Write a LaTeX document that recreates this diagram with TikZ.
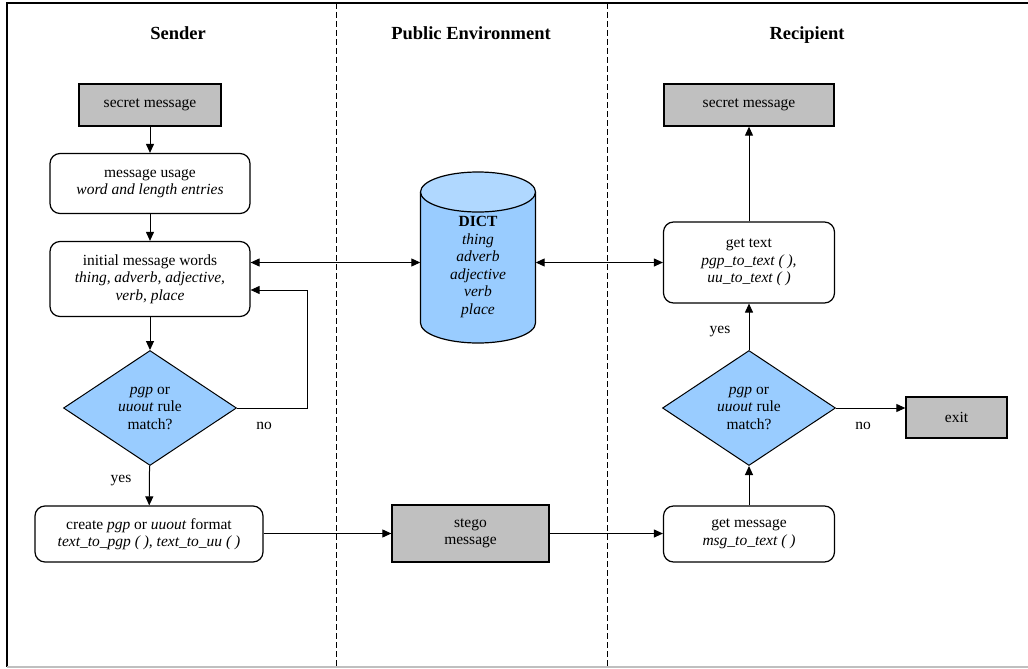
\documentclass[tikz,border=0pt]{standalone}
\usepackage{fontspec}
\setmainfont{Liberation Serif}
\usetikzlibrary{shapes.geometric,arrows.meta}
\definecolor{boxgrey}{HTML}{C0C0C0}
\definecolor{decblue}{HTML}{99CCFF}
\definecolor{toplight}{HTML}{B0D8FF}
\tikzset{
  txt/.style={font=\fontsize{15.5pt}{17.5pt}\selectfont, align=center, inner sep=0pt},
  head/.style={font=\fontsize{18.5pt}{20pt}\selectfont\bfseries, inner sep=0pt, anchor=base},
  greybox/.style={txt, draw, fill=boxgrey, line width=1.3pt},
  rbox/.style={txt, draw, fill=white, rounded corners=10pt, line width=1.2pt},
  decision/.style={txt, diamond, draw, fill=decblue, line width=1pt, aspect=1.5, minimum width=173pt, minimum height=115pt},
  arr/.style={-{Triangle[length=9pt,width=8pt]}, line width=1pt},
  arr2/.style={{Triangle[length=9pt,width=8pt]}-{Triangle[length=9pt,width=8pt]}, line width=1pt},
  lane/.style={line width=1pt, dash pattern=on 6pt off 3pt},
  lbl/.style={font=\fontsize{15.5pt}{17.5pt}\selectfont, inner sep=0pt}
}
\begin{document}
\begin{tikzpicture}[x=1pt,y=-1pt]
\useasboundingbox (0,0) rectangle (1028,669);
% frame
\draw[line width=1.5pt] (1030,3) -- (7,3) -- (7,667);
\draw[line width=1.2pt, black!25] (7,667) -- (1030,667);
% lanes
\draw[lane] (336,3) -- (336,667);
\draw[lane] (607,3) -- (607,667);
% headers
\node[head] (h1) at (178,40) {Sender};
\node[head] (h2) at (471,40) {Public Environment};
\node[head] (h3) at (807,40) {Recipient};

% Sender column
\node[greybox, minimum width=142pt, minimum height=42pt] (sm1) at (150,105) {secret message};
\node[rbox, minimum width=200pt, minimum height=60pt] (mu) at (150,183.5) {message usage\\\textit{word and length entries}};
\node[rbox, minimum width=200pt, minimum height=75pt] (imw) at (150,279) {initial message words\\\textit{thing, adverb, adjective,}\\\textit{verb, place}};
\node[decision] (dec1) at (150,408) {\textit{pgp} or\\\textit{uuout} rule\\match?};
\node[rbox, minimum width=228pt, minimum height=56pt] (cf) at (149,534) {create \textit{pgp} or \textit{uuout} format\\\textit{text\_to\_pgp ( ), text\_to\_uu ( )}};

% Public environment
\fill[decblue] (420.5,192) -- (420.5,323) arc[start angle=180, end angle=360, x radius=57.5pt, y radius=20pt] -- (535.5,192) -- cycle;
\draw[line width=1.2pt] (420.5,192) -- (420.5,323) arc[start angle=180, end angle=360, x radius=57.5pt, y radius=20pt] -- (535.5,192);
\draw[line width=1.2pt, fill=toplight] (478,192) ellipse [x radius=57.5pt, y radius=20pt];
\node[txt, minimum width=115pt] (dict) at (478,267) {\textbf{DICT}\\\textit{thing}\\\textit{adverb}\\\textit{adjective}\\\textit{verb}\\\textit{place}};
\node[greybox, minimum width=157pt, minimum height=57pt] (stego) at (470.5,533.5) {stego\\message};

% Recipient column
\node[greybox, minimum width=170pt, minimum height=42pt] (sm2) at (749,105) {secret message};
\node[rbox, minimum width=171pt, minimum height=81pt] (gt) at (749,262.5) {get text\\\textit{pgp\_to\_text ( ),}\\\textit{uu\_to\_text ( )}};
\node[decision] (dec2) at (749,408) {\textit{pgp} or\\\textit{uuout} rule\\match?};
\node[greybox, minimum width=101pt, minimum height=41pt] (exit) at (956.5,417.5) {exit};
\node[rbox, minimum width=171pt, minimum height=56pt] (gm) at (749,534) {get message\\\textit{msg\_to\_text ( )}};

% connectors
\draw[arr] (sm1) -- (mu);
\draw[arr] (mu) -- (imw);
\draw[arr] (imw) -- (dec1);
\draw[arr] (dec1) -- (cf);
\coordinate (loopc) at (307,290);
\draw[arr] (dec1.east) -| (loopc) -- (imw.east |- loopc);
\draw[arr2] (imw.east |- gt) -- (dict.west |- gt);
\draw[arr2] (dict.east |- gt) -- (gt.west);
\draw[arr] (cf.east |- stego) -- (stego.west);
\draw[arr] (stego.east) -- (gm.west |- stego);
\draw[arr] (gm) -- (dec2);
\draw[arr] (dec2) -- (gt);
\draw[arr] (gt) -- (sm2);
\draw[arr] (dec2.east) -- (exit.west |- dec2.east);

% labels
\node[lbl] (no1) at (264,426) {no};
\node[lbl] (yes1) at (121,481) {yes};
\node[lbl] (yes2) at (720,332) {yes};
\node[lbl] (no2) at (863,426) {no};
\end{tikzpicture}
\end{document}
